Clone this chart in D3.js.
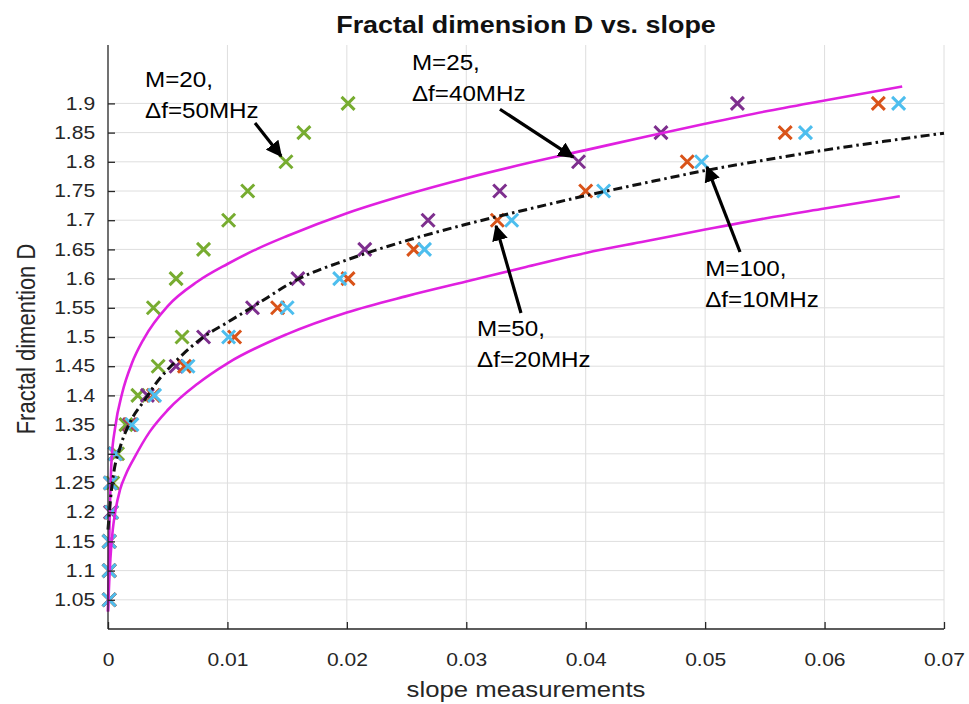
<!DOCTYPE html>
<html>
<head>
<meta charset="utf-8">
<script src="https://cdn.jsdelivr.net/npm/d3@7"></script>
<style>
  html, body { margin: 0; padding: 0; background: #ffffff; }
  svg { display: block; }
  text { font-family: "Liberation Sans", Arial, Helvetica, sans-serif; }
</style>
</head>
<body>
<svg id="chart" width="969" height="704"></svg>
<script>
// ---------------- data ----------------
const dLevels = [1.05, 1.1, 1.15, 1.2, 1.25, 1.3, 1.35, 1.4, 1.45, 1.5, 1.55, 1.6, 1.65, 1.7, 1.75, 1.8, 1.85, 1.9];

// slope values per series (same order as dLevels)
const slopeM20  = [0.0001, 0.0001, 0.0001, 0.0003, 0.0004, 0.0008, 0.0015, 0.0025, 0.0042, 0.0062, 0.0038, 0.0057, 0.0080, 0.0101, 0.0117, 0.0149, 0.0164, 0.0201];
const slopeM25  = [0.0001, 0.0001, 0.0001, 0.0002, 0.0002, 0.0006, 0.0018, 0.0033, 0.0057, 0.0080, 0.0121, 0.0159, 0.0215, 0.0268, 0.0328, 0.0394, 0.0463, 0.0527];
const slopeM50  = [0.0001, 0.0001, 0.0001, 0.0003, 0.0002, 0.0006, 0.0019, 0.0038, 0.0064, 0.0106, 0.0142, 0.0201, 0.0256, 0.0326, 0.0400, 0.0485, 0.0567, 0.0645];
const slopeM100 = [0.0001, 0.0001, 0.0001, 0.0003, 0.0002, 0.0006, 0.0020, 0.0039, 0.0067, 0.0101, 0.0150, 0.0194, 0.0265, 0.0338, 0.0415, 0.0497, 0.0584, 0.0662];

const seriesNames  = ["M=20", "M=25", "M=50", "M=100"];
const seriesColors = ["#77AC30", "#7E2F8E", "#D95319", "#4DBEEE"];

// fitted curve (black dash-dot)
const fitX = [0, 0.0002, 0.0005, 0.001, 0.002, 0.003, 0.004, 0.006, 0.008, 0.010, 0.012, 0.016, 0.020, 0.025, 0.030, 0.035, 0.040, 0.045, 0.050, 0.055, 0.060, 0.065, 0.070];
const fitD = [1.17, 1.22, 1.27, 1.31, 1.36, 1.39, 1.42, 1.465, 1.50, 1.525, 1.55, 1.60, 1.632, 1.665, 1.693, 1.718, 1.742, 1.764, 1.785, 1.803, 1.820, 1.835, 1.849];

// upper bound (magenta)
const upX = [0, 0.0001, 0.0003, 0.0006, 0.0012, 0.002, 0.003, 0.005, 0.0075, 0.010, 0.0125, 0.015, 0.020, 0.025, 0.030, 0.035, 0.040, 0.045, 0.050, 0.055, 0.060, 0.0665];
const upD = [1.03, 1.15, 1.29, 1.345, 1.405, 1.455, 1.497, 1.553, 1.595, 1.625, 1.651, 1.673, 1.712, 1.744, 1.772, 1.797, 1.820, 1.843, 1.865, 1.886, 1.905, 1.929];

// lower bound (magenta)
const loX = [0, 0.0001, 0.0002, 0.0004, 0.0006, 0.001, 0.0015, 0.0022, 0.0035, 0.005, 0.0075, 0.010, 0.015, 0.020, 0.025, 0.030, 0.035, 0.040, 0.045, 0.050, 0.055, 0.060, 0.0663];
const loD = [1.03, 1.08, 1.12, 1.17, 1.20, 1.238, 1.265, 1.293, 1.338, 1.375, 1.42, 1.455, 1.505, 1.542, 1.570, 1.595, 1.620, 1.644, 1.664, 1.684, 1.703, 1.720, 1.741];

// ticks
const xTicks = [0, 0.01, 0.02, 0.03, 0.04, 0.05, 0.06, 0.07];
const yTicks = [1.05, 1.1, 1.15, 1.2, 1.25, 1.3, 1.35, 1.4, 1.45, 1.5, 1.55, 1.6, 1.65, 1.7, 1.75, 1.8, 1.85, 1.9];

// texts
const titleText = "Fractal dimension D vs. slope";
const xLabel = "slope measurements";
const yLabel = "Fractal dimention D";

// annotations: two text lines, text anchor (data), arrow start & tip (data)
const annoLine1 = ["M=20,", "M=25,", "M=50,", "M=100,"];
const annoLine2 = ["\u0394f=50MHz", "\u0394f=40MHz", "\u0394f=20MHz", "\u0394f=10MHz"];
const annoTextX = [0.0031, 0.02545, 0.0309, 0.0500];
const annoTextD = [1.928, 1.957, 1.502, 1.6045];
const arrowFromX = [0.01231, 0.03282, 0.03458, 0.05292];
const arrowFromD = [1.8664, 1.890, 1.541, 1.6455];
const arrowToX   = [0.01449, 0.03894, 0.03249, 0.05016];
const arrowToD   = [1.810, 1.808, 1.690, 1.791];

// ---------------- drawing ----------------
const svg = d3.select("#chart");
const margin = { left: 108, right: 25, top: 45, bottom: 75 };
const W = 969, H = 704;
const SX = 1.17; // horizontal text stretch of the original picture

const x = d3.scaleLinear().domain([0, 0.07]).range([margin.left, W - margin.right]);
const y = d3.scaleLinear().domain([1, 2]).range([H - margin.bottom, margin.top]);

const fmt = v => String(+v.toFixed(2));

// grid
const grid = svg.append("g");
grid.selectAll("line.vg").data(xTicks.filter(t => t > 0)).join("line")
  .attr("x1", d => x(d)).attr("x2", d => x(d))
  .attr("y1", y(1)).attr("y2", y(2))
  .attr("stroke", "#dedede").attr("stroke-width", 1);
grid.selectAll("line.hg").data(yTicks).join("line")
  .attr("x1", x(0)).attr("x2", x(0.07))
  .attr("y1", d => y(d)).attr("y2", d => y(d))
  .attr("stroke", "#dedede").attr("stroke-width", 1);

// markers
const half = 6.5;
const markG = svg.append("g");
const allSlopes = [slopeM20, slopeM25, slopeM50, slopeM100];
allSlopes.forEach((sl, si) => {
  markG.append("g").selectAll("path").data(dLevels.map((d, i) => ({ s: sl[i], d })))
    .join("path")
    .attr("transform", p => `translate(${x(p.s)},${y(p.d)})`)
    .attr("d", `M${-half},${-half}L${half},${half}M${-half},${half}L${half},${-half}`)
    .attr("stroke", seriesColors[si])
    .attr("stroke-width", 3)
    .attr("fill", "none");
});

// curves
const line = d3.line().x(p => x(p[0])).y(p => y(p[1])).curve(d3.curveMonotoneX);
svg.append("path").datum(upX.map((v, i) => [v, upD[i]]))
  .attr("d", line).attr("fill", "none").attr("stroke", "#E020E0").attr("stroke-width", 2.6);
svg.append("path").datum(loX.map((v, i) => [v, loD[i]]))
  .attr("d", line).attr("fill", "none").attr("stroke", "#E020E0").attr("stroke-width", 2.6);
svg.append("path").datum(fitX.map((v, i) => [v, fitD[i]]))
  .attr("d", line).attr("fill", "none").attr("stroke", "#111").attr("stroke-width", 3)
  .attr("stroke-dasharray", "9,4,2.5,4");

// axes
const xAxis = d3.axisBottom(x).tickValues(xTicks).tickFormat(fmt).tickSizeInner(-7).tickSizeOuter(0).tickPadding(24);
const yAxis = d3.axisLeft(y).tickValues(yTicks).tickFormat(fmt).tickSizeInner(-7).tickSizeOuter(0).tickPadding(11);

const gx = svg.append("g").attr("transform", `translate(0,${y(1)})`).call(xAxis);
const gy = svg.append("g").attr("transform", `translate(${x(0)},0)`).call(yAxis);
[gx, gy].forEach(g => {
  g.select(".domain").attr("stroke", "#262626").attr("stroke-width", 1.3);
  g.selectAll(".tick line").attr("stroke", "#262626").attr("stroke-width", 1.3);
  g.selectAll(".tick text").attr("fill", "#262626").attr("font-size", 18)
    .attr("font-family", "'Liberation Sans', Arial, sans-serif");
});
gx.selectAll(".tick text").attr("transform", `scale(${SX},1)`);
gy.selectAll(".tick text").attr("transform", `scale(${SX},1)`);
gy.select(".domain").attr("d", `M0,${y(2)}V${y(1)}`);
gx.select(".domain").attr("d", `M${x(0)},0H${x(0.07)}`);

function stretchedText(px, py, str, opts) {
  return svg.append("text")
    .attr("transform", `translate(${px},${py}) scale(${opts.sx || SX},1)`)
    .attr("text-anchor", opts.anchor || "start")
    .attr("font-size", opts.size)
    .attr("font-weight", opts.weight || "normal")
    .attr("fill", opts.fill || "#000")
    .text(str);
}

// title
stretchedText((x(0) + x(0.07)) / 2, 33, titleText, { size: 23, weight: "bold", anchor: "middle", fill: "#111" });
// x label
stretchedText((x(0) + x(0.07)) / 2, 697, xLabel, { size: 22, anchor: "middle", fill: "#262626" });
// y label
svg.append("text")
  .attr("transform", `translate(35,${(y(1) + y(2)) / 2 + 2}) rotate(-90) scale(1,${SX})`)
  .attr("text-anchor", "middle").attr("font-size", 22).attr("fill", "#262626")
  .text(yLabel);

// annotations
svg.append("defs").append("marker")
  .attr("id", "ah").attr("viewBox", "0 0 10 10").attr("refX", 9).attr("refY", 5)
  .attr("markerWidth", 5).attr("markerHeight", 5).attr("orient", "auto")
  .attr("markerUnits", "strokeWidth")
  .append("path").attr("d", "M0,0L10,5L0,10Z").attr("fill", "#000");

annoLine1.forEach((t, i) => {
  const tx = x(annoTextX[i]), ty = y(annoTextD[i]);
  stretchedText(tx, ty, t, { size: 22, sx: 1.1 });
  stretchedText(tx, ty + 31, annoLine2[i], { size: 22, sx: 1.1 });
  svg.append("line")
    .attr("x1", x(arrowFromX[i])).attr("y1", y(arrowFromD[i]))
    .attr("x2", x(arrowToX[i])).attr("y2", y(arrowToD[i]))
    .attr("stroke", "#000").attr("stroke-width", 3.2)
    .attr("marker-end", "url(#ah)");
});
</script>
</body>
</html>
